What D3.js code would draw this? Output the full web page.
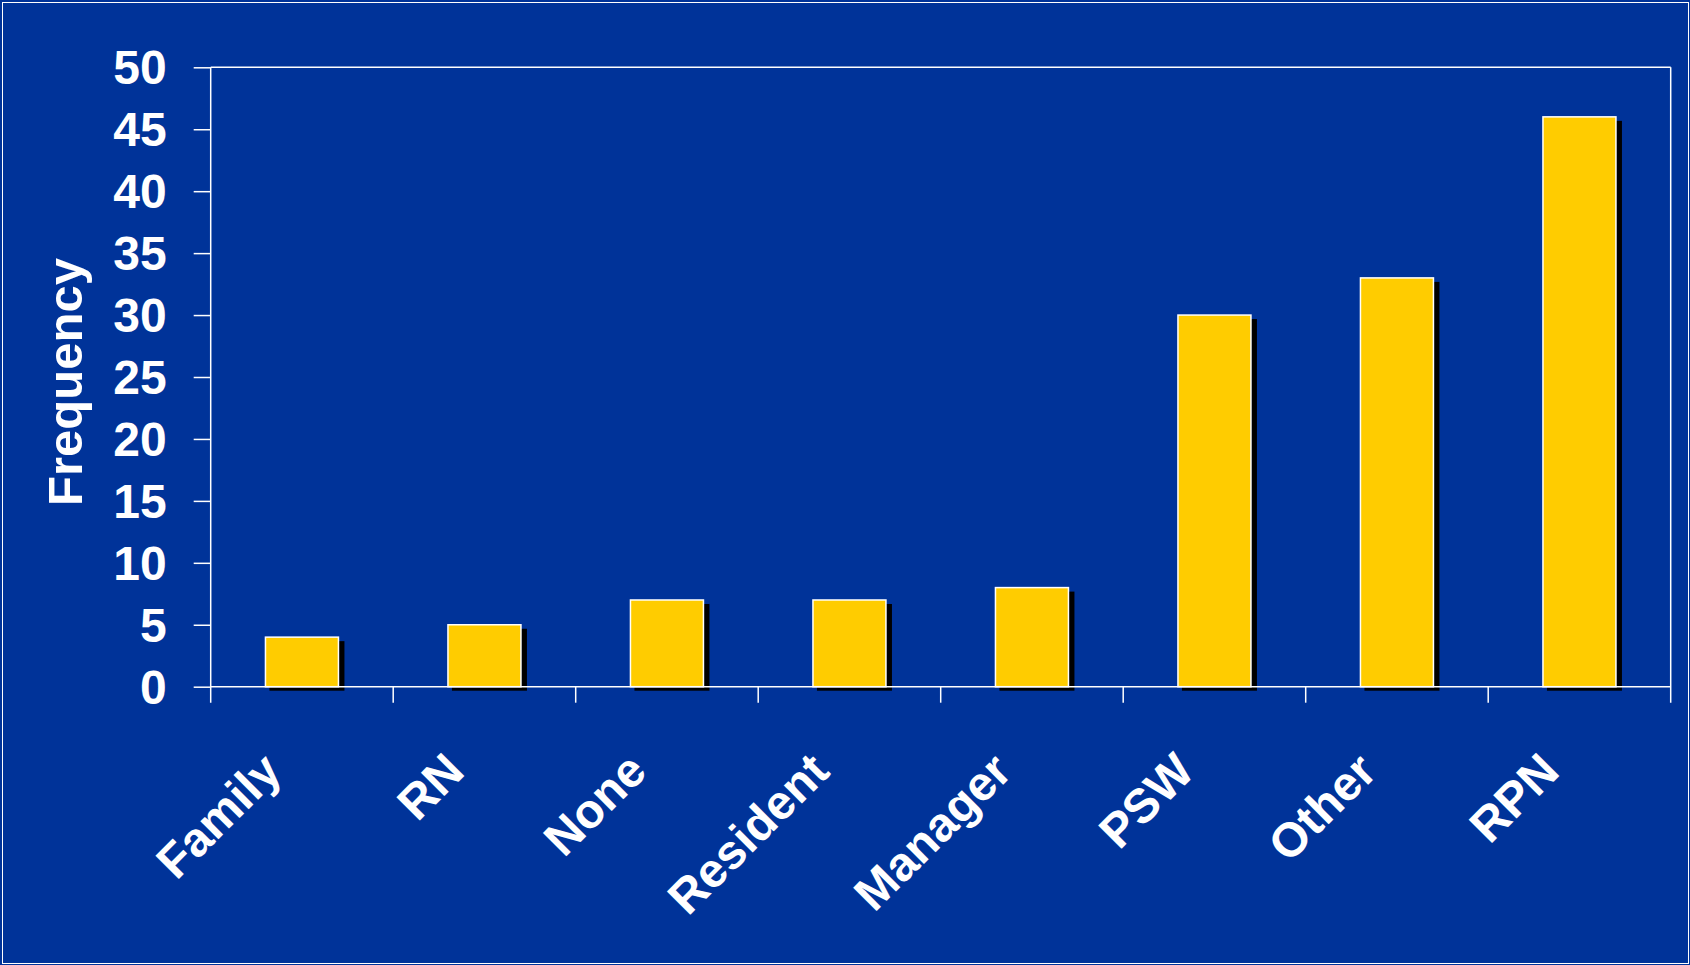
<!DOCTYPE html>
<html>
<head>
<meta charset="utf-8">
<script src="https://cdn.jsdelivr.net/npm/d3@7"></script>
<style>
  html, body { margin: 0; padding: 0; background: #003399; }
  svg { display: block; }
  text { font-family: "Liberation Sans", Arial, sans-serif; font-weight: bold; fill: #fff; }
</style>
</head>
<body>
<svg width="1690" height="965"></svg>
<script>
// chart data
var categories = ["Family", "RN", "None", "Resident", "Manager", "PSW", "Other", "RPN"];
var frequency = [4, 5, 7, 7, 8, 30, 33, 46];
var yTicks = [0, 5, 10, 15, 20, 25, 30, 35, 40, 45, 50];

var svg = d3.select("svg"),
    width = +svg.attr("width"),
    height = +svg.attr("height");

var margin = {left: 210.7, right: 1670.7, top: 67.3, bottom: 686.7};

svg.append("rect")
    .attr("width", width)
    .attr("height", height)
    .attr("fill", "#003399");

// thin frame round the slide
svg.append("rect")
    .attr("x", 2.5).attr("y", 2.5)
    .attr("width", width - 4).attr("height", height - 4)
    .attr("fill", "none")
    .attr("stroke", "#fff")
    .attr("stroke-width", 1);

var x = d3.scaleBand()
    .domain(categories)
    .range([margin.left, margin.right])
    .paddingInner(0.6)
    .paddingOuter(0.3);

var y = d3.scaleLinear()
    .domain([0, 50])
    .range([margin.bottom, margin.top]);

var step = x.step();

// shadows first, bars on top
var data = categories.map(function(c, i) { return {cat: c, value: frequency[i]}; });

svg.append("g").selectAll("rect")
    .data(data)
    .enter().append("rect")
      .attr("x", function(d) { return x(d.cat) + 4; })
      .attr("y", function(d) { return y(d.value) + 4; })
      .attr("width", x.bandwidth() + 2)
      .attr("height", function(d) { return y(0) - y(d.value); })
      .attr("fill", "#000");

svg.append("g").selectAll("rect")
    .data(data)
    .enter().append("rect")
      .attr("x", function(d) { return x(d.cat); })
      .attr("y", function(d) { return y(d.value); })
      .attr("width", x.bandwidth())
      .attr("height", function(d) { return y(0) - y(d.value); })
      .attr("fill", "#ffcc00")
      .attr("stroke", "#fff")
      .attr("stroke-width", 1.5);

// y axis
var yAxis = d3.axisLeft(y)
    .tickValues(yTicks)
    .tickSize(17)
    .tickPadding(27)
    .tickSizeOuter(0);

var gy = svg.append("g")
    .attr("transform", "translate(" + margin.left + ",0)")
    .call(yAxis);
gy.select(".domain").remove();
gy.selectAll("line").attr("stroke", "#fff").attr("stroke-width", 1.5);
gy.selectAll("text")
    .attr("font-size", "48px")
    .attr("dy", "0.34em")
    .attr("fill", "#fff")
    .attr("font-family", "Liberation Sans, Arial, sans-serif");

// box: left, top, right, bottom
var axisColor = "#fff";
svg.append("line")
    .attr("x1", margin.left).attr("x2", margin.left)
    .attr("y1", margin.top).attr("y2", margin.bottom + 16)
    .attr("stroke", axisColor).attr("stroke-width", 1.5);
svg.append("line")
    .attr("x1", margin.left).attr("x2", margin.right)
    .attr("y1", margin.top).attr("y2", margin.top)
    .attr("stroke", axisColor).attr("stroke-width", 1.5);
svg.append("line")
    .attr("x1", margin.right).attr("x2", margin.right)
    .attr("y1", margin.top).attr("y2", margin.bottom + 16)
    .attr("stroke", axisColor).attr("stroke-width", 1.5);
svg.append("line")
    .attr("x1", margin.left).attr("x2", margin.right)
    .attr("y1", y(0)).attr("y2", y(0))
    .attr("stroke", axisColor).attr("stroke-width", 1.5);

// x ticks on the band boundaries
svg.append("g").selectAll("line")
    .data(categories.slice(1))
    .enter().append("line")
      .attr("x1", function(d) { return x(d) - step * x.paddingInner() / 2; })
      .attr("x2", function(d) { return x(d) - step * x.paddingInner() / 2; })
      .attr("y1", y(0))
      .attr("y2", y(0) + 16)
      .attr("stroke", axisColor)
      .attr("stroke-width", 1.5);

// x labels, rotated
svg.append("g").selectAll("text")
    .data(categories)
    .enter().append("text")
      .attr("transform", function(d) {
        var cx = x(d) + x.bandwidth() / 2 - 18;
        return "translate(" + cx + "," + (y(0) + 87) + ") rotate(-45)";
      })
      .attr("text-anchor", "end")
      .attr("font-size", "48px")
      .text(function(d) { return d; });

// y title
svg.append("text")
    .attr("transform", "translate(82," + ((margin.top + margin.bottom) / 2 + 5) + ") rotate(-90)")
    .attr("text-anchor", "middle")
    .attr("font-size", "49px")
    .text("Frequency");
</script>
</body>
</html>
